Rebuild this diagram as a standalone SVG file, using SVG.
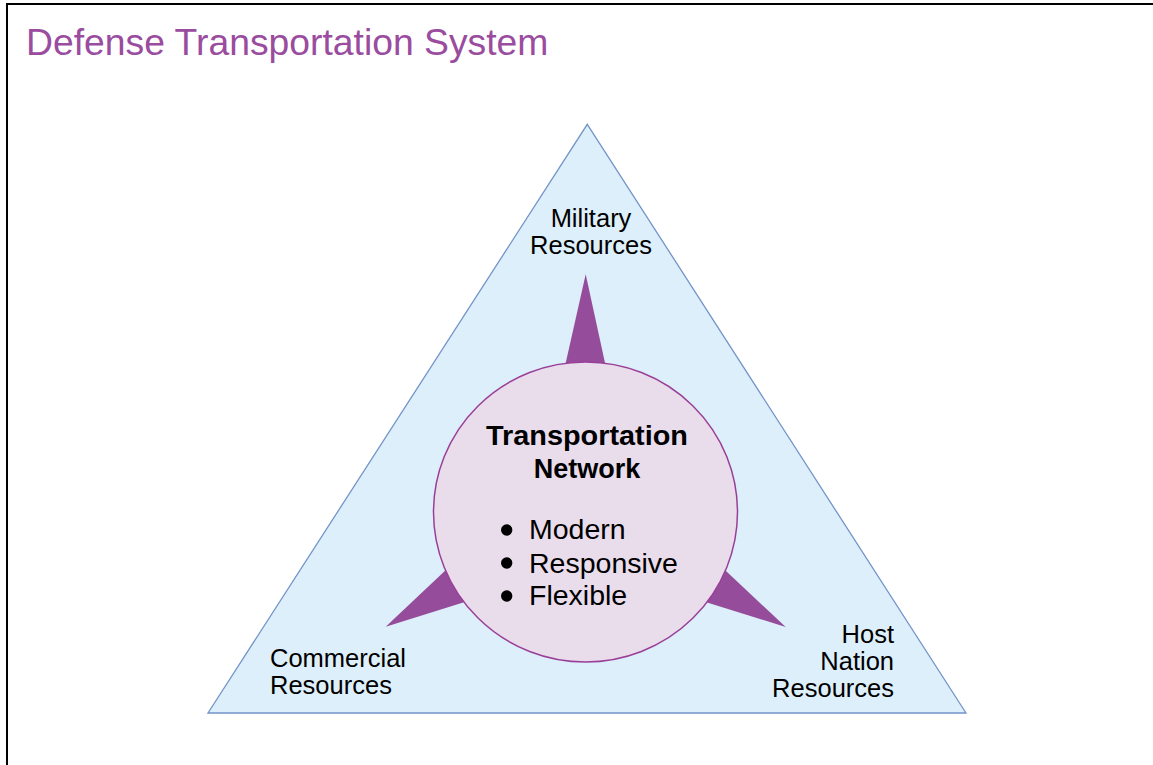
<svg xmlns="http://www.w3.org/2000/svg" width="1153" height="765" viewBox="0 0 1153 765">
<style>
.lbl{font-family:"Liberation Sans",Arial,sans-serif;font-size:25.5px;fill:#000}
.bul{font-family:"Liberation Sans",Arial,sans-serif;font-size:28.5px;fill:#000}
.hd{font-family:"Liberation Sans",Arial,sans-serif;font-size:27px;font-weight:bold;fill:#000}
.spike{fill:#954d9b}
</style>
<rect width="1153" height="765" fill="#fff"/>
<path d="M7 765 V4 H1153" fill="none" stroke="#000" stroke-width="2"/>
<text x="26" y="55" font-family="'Liberation Sans',Arial,sans-serif" font-size="37.3" fill="#9a4c9f">Defense Transportation System</text>
<g id="triangle">
<polygon points="587.3,124.3 966,713 208,713" fill="#ddeffa" stroke="#7394c8" stroke-width="1.3"/>
</g>
<g id="connectors">
<polygon class="spike" points="585.7,274.3 608.9,380.8 561.7,380.8"/>
<polygon class="spike" points="385.7,626.7 462.8,553.9 488.8,594.6"/>
<polygon class="spike" points="785.7,627 707.7,553.8 683,595"/>
</g>
<g id="military">
<text class="lbl" x="591" y="227" text-anchor="middle">Military</text>
<text class="lbl" x="591" y="254" text-anchor="middle">Resources</text>
</g>
<g id="commercial">
<text class="lbl" x="270" y="667">Commercial</text>
<text class="lbl" x="270" y="694">Resources</text>
</g>
<g id="hostnation">
<text class="lbl" x="894" y="643" text-anchor="end">Host</text>
<text class="lbl" x="894" y="670" text-anchor="end">Nation</text>
<text class="lbl" x="894" y="697" text-anchor="end">Resources</text>
</g>
<g id="network">
<ellipse cx="585.5" cy="512" rx="152" ry="150" fill="#e9ddec" stroke="#9a3f98" stroke-width="1.5"/>
<text class="hd" x="587" y="445" text-anchor="middle" textLength="202" lengthAdjust="spacingAndGlyphs">Transportation</text>
<text class="hd" x="587" y="478" text-anchor="middle">Network</text>
<circle cx="506.7" cy="530" r="5.7" fill="#000"/>
<circle cx="506.7" cy="563" r="5.7" fill="#000"/>
<circle cx="506.7" cy="596" r="5.7" fill="#000"/>
<text class="bul" x="529" y="539">Modern</text>
<text class="bul" x="529" y="572.5">Responsive</text>
<text class="bul" x="529" y="605">Flexible</text>
</g>
</svg>
